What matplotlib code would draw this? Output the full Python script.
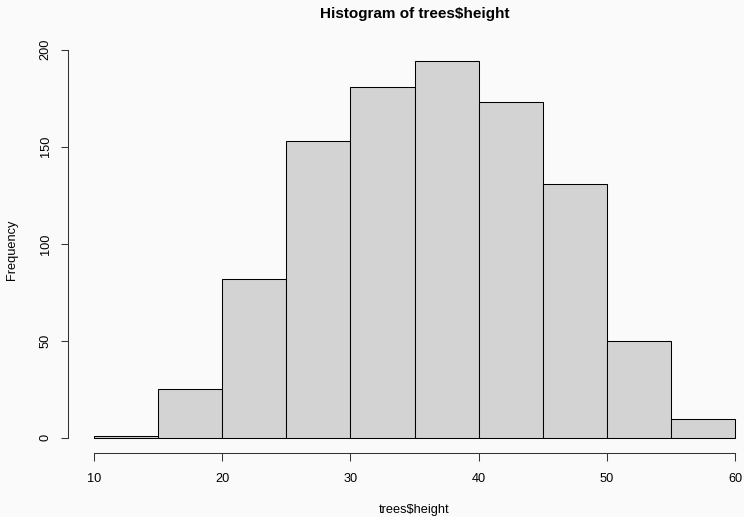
import numpy as np
import matplotlib.pyplot as plt

# histogram of trees$height
bin_edges = [10, 15, 20, 25, 30, 35, 40, 45, 50, 55, 60]
counts = [1, 25, 82, 153, 181, 194, 173, 131, 50, 10]
x_ticks = [10, 20, 30, 40, 50, 60]
y_ticks = [0, 50, 100, 150, 200]

plt.rcParams['font.family'] = ['Liberation Sans', 'DejaVu Sans']

W, H = 744, 517
bg = '#fafafa'
fig = plt.figure(figsize=(W / 100, H / 100), dpi=100, facecolor=bg)

# plot region in pixels (R style, 4% padding on both axes)
left, right, top, bottom = 68.4, 760.6, 46.3, 453.0
ax = fig.add_axes([left / W, (H - bottom) / H, (right - left) / W, (bottom - top) / H])
ax.set_facecolor('none')

widths = np.diff(bin_edges)
ax.bar(bin_edges[:-1], counts, width=widths, align='edge',
       color='#d3d3d3', edgecolor='black', linewidth=0.75)

pad_x = 0.04 * (bin_edges[-1] - bin_edges[0])
pad_y = 0.04 * max(counts)
ax.set_xlim(bin_edges[0] - pad_x, bin_edges[-1] + pad_x)
ax.set_ylim(-pad_y, max(counts) + pad_y)

for s in ['top', 'right']:
    ax.spines[s].set_visible(False)
ax.spines['left'].set_bounds(y_ticks[0], y_ticks[-1])
ax.spines['bottom'].set_bounds(x_ticks[0], x_ticks[-1])
for s in ['left', 'bottom']:
    ax.spines[s].set_linewidth(0.75)
    ax.spines[s].set_color('#333333')

ax.set_xticks(x_ticks)
ax.set_yticks(y_ticks)
ax.tick_params(length=5.4, width=0.75, color='#333333', labelsize=9.2)
ax.tick_params(axis='x', pad=9)
ax.tick_params(axis='y', labelrotation=90, pad=6.5)
for lab in ax.get_yticklabels():
    lab.set_va('center')

fig.text(414.5 / W, 1 - 14 / H, 'Histogram of trees$height', ha='center', va='center',
         fontsize=11, fontweight='bold')
fig.text(414.5 / W, 1 - 510 / H, 'trees$height', ha='center', va='center', fontsize=9.2)
fig.text(12 / W, 1 - 250 / H, 'Frequency', ha='center', va='center', rotation=90, fontsize=9.2)

fig.savefig('out.png', dpi=100, facecolor=bg)
